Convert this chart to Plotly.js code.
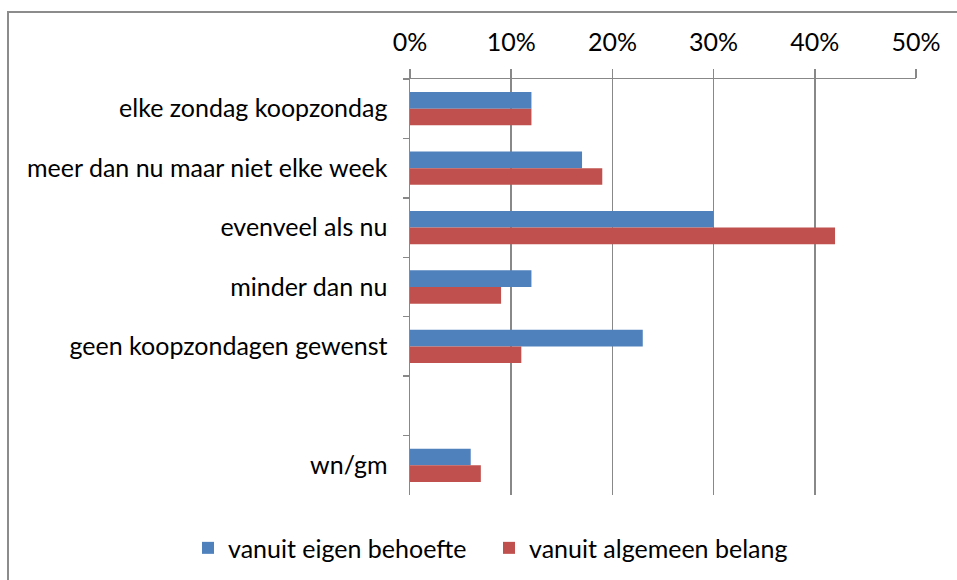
<!DOCTYPE html>
<html>
<head>
<meta charset="utf-8">
<script src="https://cdn.plot.ly/plotly-3.0.1.min.js"></script>
<style>
  html, body { margin: 0; padding: 0; background: #fff; }
  #wrap { position: relative; width: 957px; height: 580px; overflow: hidden; }
  #chart { width: 957px; height: 580px; }
  #frame {
    position: absolute; left: 7px; top: 11px; width: 1000px; height: 620px;
    border: 2px solid #8c8c8c; pointer-events: none;
  }
</style>
</head>
<body>
<div id="wrap">
  <div id="chart"></div>
  <div id="frame"></div>
</div>
<script>
// Categories, top to bottom (the blank one is an empty row in the chart)
const categories = [
    'elke zondag koopzondag',
    'meer dan nu maar niet elke week',
    'evenveel als nu',
    'minder dan nu',
    'geen koopzondagen gewenst',
    ' ',
    'wn/gm'
];

// Percentages
const eigenBehoefte = [12, 17, 30, 12, 23, null, 6];
const algemeenBelang = [12, 19, 42, 9, 11, null, 7];

const seriesNames = ['vanuit eigen behoefte', 'vanuit algemeen belang'];
const tickValues = [0, 10, 20, 30, 40, 50];
const tickLabels = tickValues.map(v => v + '%');

const font = 'Lato, "Open Sans", sans-serif';
const fontSize = 25;
const gridColor = '#888888';

const data = [
    {
        type: 'bar',
        orientation: 'h',
        name: seriesNames[0],
        y: categories,
        x: eigenBehoefte,
        marker: { color: '#4f81bd' },
        legend: 'legend',
        hoverinfo: 'x+y'
    },
    {
        type: 'bar',
        orientation: 'h',
        name: seriesNames[1],
        y: categories,
        x: algemeenBelang,
        marker: { color: '#c0504d' },
        legend: 'legend2',
        hoverinfo: 'x+y'
    }
];

// one legend per series so both can sit on one row
function legendAt(px) {
    return {
        orientation: 'h',
        x: px / 957,
        xref: 'container',
        xanchor: 'left',
        y: 0.055,
        yref: 'container',
        yanchor: 'middle',
        font: { family: font, size: fontSize, color: '#000000' },
        bgcolor: 'rgba(0,0,0,0)'
    };
}

const layout = {
    width: 957,
    height: 580,
    margin: { l: 410, r: 41, t: 79, b: 85 },
    paper_bgcolor: '#ffffff',
    plot_bgcolor: '#ffffff',
    font: { family: font, size: fontSize, color: '#000000' },
    barmode: 'group',
    bargap: 0.44,
    bargroupgap: 0,
    xaxis: {
        side: 'top',
        range: [0, 50],
        tickvals: tickValues,
        ticktext: tickLabels,
        showgrid: true,
        gridcolor: gridColor,
        gridwidth: 1.5,
        showline: true,
        linecolor: gridColor,
        linewidth: 1.5,
        ticks: 'outside',
        ticklen: 9,
        tickcolor: gridColor,
        tickwidth: 1.5,
        ticklabelstandoff: 8,
        zeroline: false,
        tickfont: { family: font, size: fontSize, color: '#000000' },
        fixedrange: true
    },
    yaxis: {
        type: 'category',
        categoryorder: 'array',
        categoryarray: categories,
        autorange: 'reversed',
        showgrid: false,
        showline: true,
        linecolor: gridColor,
        linewidth: 1.5,
        ticks: 'outside',
        tickson: 'boundaries',
        ticklen: 6,
        tickcolor: gridColor,
        tickwidth: 1.5,
        ticklabelstandoff: 16,
        tickfont: { family: font, size: fontSize, color: '#000000' },
        fixedrange: true
    },
    showlegend: true,
    legend: legendAt(188),
    legend2: legendAt(489)
};

Plotly.newPlot('chart', data, layout, { displayModeBar: false, staticPlot: true });
</script>
</body>
</html>
